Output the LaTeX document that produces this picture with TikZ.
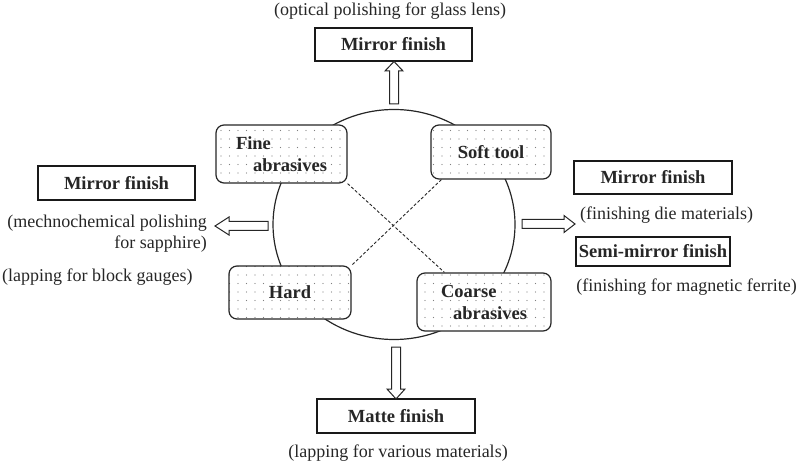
\documentclass[tikz,border=0pt]{standalone}
\usepackage{fontspec}
\setmainfont{Liberation Serif}
\usetikzlibrary{patterns.meta,calc}
\begin{document}
\begin{tikzpicture}[x=1pt,y=-1pt,
  every node/.style={font=\fontsize{18}{22}\selectfont, text=black!85},
  tool/.style={draw=black!85, line width=1.2pt, rounded corners=8pt,
    preaction={fill=white},
    pattern={Dots[radius=0.6pt, distance=8.5pt]}, pattern color=black!50,
    font=\fontsize{18.5}{22}\selectfont\bfseries, align=left, inner sep=0pt},
  finish/.style={draw=black!90, line width=2.4pt, fill=white,
    font=\fontsize{18.5}{22}\selectfont\bfseries, inner sep=0pt},
  note/.style={font=\fontsize{18}{21}\selectfont, inner sep=0pt},
  barrow/.style={draw=black!85, line width=1pt, fill=white, line join=miter},
  cross/.style={draw=black!85, line width=0.9pt, dash pattern=on 3pt off 2pt}]
\useasboundingbox (0,0) rectangle (800,462);
% central circle
\draw[line width=1.2pt, black!85] (394,224.5) ellipse [x radius=121, y radius=115];
% tool boxes
\node[tool, minimum width=131, minimum height=58] (fine) at (281.5,154) {Fine\\\hspace*{17pt}abrasives};
\node[tool, minimum width=120, minimum height=54] (soft) at (491,152) {Soft tool};
\node[tool, minimum width=122, minimum height=53] (hard) at (290,292.5) {Hard};
\node[tool, minimum width=134, minimum height=58] (coarse) at (484,302) {Coarse\\\hspace*{12pt}abrasives};
% dashed diagonals
\draw[cross] (fine.south east) -- ($(coarse.north west)+(28,0)$);
\draw[cross] ($(soft.south west)+(11,0)$) -- (hard.north east);
% finish boxes
\node[finish, minimum width=157, minimum height=33] (top) at (393.5,44.5) {Mirror finish};
\node[finish, minimum width=157, minimum height=34] (left) at (116.5,183) {Mirror finish};
\node[finish, minimum width=158, minimum height=33] (rmir) at (653,177.5) {Mirror finish};
\node[finish, minimum width=154, minimum height=29] (semi) at (653,251.5) {Semi-mirror finish};
\node[finish, minimum width=158, minimum height=34] (matte) at (396,416) {Matte finish};
% notes
\node[note] (ntop) at (390,11) {(optical polishing for glass lens)};
\node[note, align=right, anchor=east] (nleft) at (207,233.5) {(mechnochemical polishing\\for sapphire)};
\node[note, anchor=west] (nblock) at (2,277) {(lapping for block gauges)};
\node[note, anchor=west] (ndie) at (580,215) {(finishing die materials)};
\node[note, anchor=east] (nferr) at (797,287) {(finishing for magnetic ferrite)};
\node[note] (nmatte) at (398,453) {(lapping for various materials)};
% block arrows
\draw[barrow] (389.5,104) -- (389.5,71) -- (385,71) -- (394,61.5) -- (403,71) -- (398.5,71) -- (398.5,104) -- cycle;
\draw[barrow] (268,221.5) -- (229,221.5) -- (229,217) -- (215,226) -- (229,235) -- (229,230.5) -- (268,230.5) -- cycle;
\draw[barrow] (522,219.5) -- (564,219.5) -- (564,215.5) -- (575,224) -- (564,232.5) -- (564,228.5) -- (522,228.5) -- cycle;
\draw[barrow] (391.5,347) -- (391.5,389) -- (387,389) -- (396,399) -- (405,389) -- (400.5,389) -- (400.5,347) -- cycle;
\end{tikzpicture}
\end{document}
